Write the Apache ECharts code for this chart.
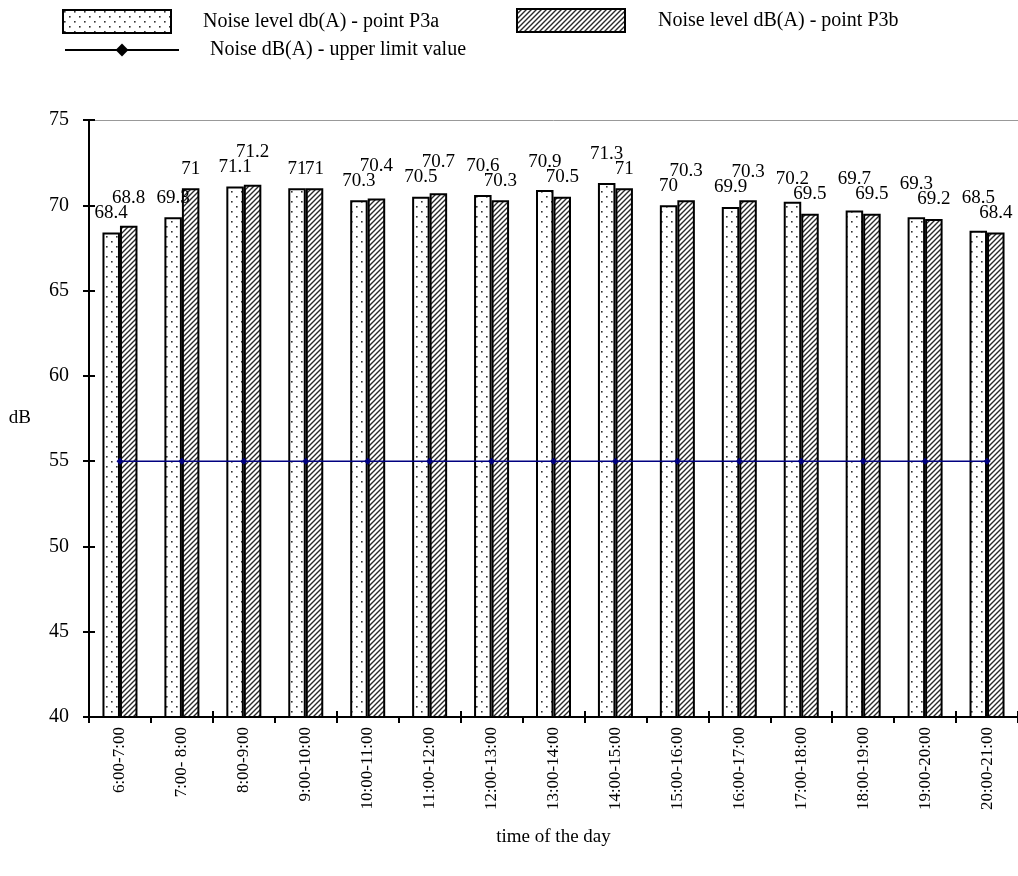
<!DOCTYPE html>
<html>
<head>
<meta charset="utf-8">
<script src="https://cdn.jsdelivr.net/npm/echarts@6/dist/echarts.min.js"></script>
<style>
  html, body { margin: 0; padding: 0; background: #fff; }
  #chart { width: 1018px; height: 876px; }
</style>
</head>
<body>
<div id="chart"></div>
<script>
// Hourly time slots
const categories = ['6:00-7:00', '7:00- 8:00', '8:00-9:00', '9:00-10:00', '10:00-11:00',
  '11:00-12:00', '12:00-13:00', '13:00-14:00', '14:00-15:00', '15:00-16:00',
  '16:00-17:00', '17:00-18:00', '18:00-19:00', '19:00-20:00', '20:00-21:00'];

// Measured noise levels, dB(A)
const pointP3a = [68.4, 69.3, 71.1, 71, 70.3, 70.5, 70.6, 70.9, 71.3, 70, 69.9, 70.2, 69.7, 69.3, 68.5];
const pointP3b = [68.8, 71, 71.2, 71, 70.4, 70.7, 70.3, 70.5, 71, 70.3, 70.3, 69.5, 69.5, 69.2, 68.4];

// Permitted upper limit, dB(A)
const upperLimit = [55, 55, 55, 55, 55, 55, 55, 55, 55, 55, 55, 55, 55, 55, 55];

const yTicks = { min: 40, max: 75, interval: 5 };

const FONT = '"Liberation Serif", "Times New Roman", serif';

// Dotted fill
function dotTile() {
  const c = document.createElement('canvas');
  c.width = 10; c.height = 10;
  const g = c.getContext('2d');
  g.fillStyle = '#fff'; g.fillRect(0, 0, 10, 10);
  g.fillStyle = '#333';
  g.fillRect(1, 1, 1.6, 1.6);
  g.fillRect(6, 6, 1.6, 1.6);
  return c;
}
// Diagonal hatch fill
function hatchTile() {
  const s = 5;
  const c = document.createElement('canvas');
  c.width = s; c.height = s;
  const g = c.getContext('2d');
  g.fillStyle = '#fff'; g.fillRect(0, 0, s, s);
  g.strokeStyle = '#2a2a2a'; g.lineWidth = 1.4;
  g.beginPath();
  g.moveTo(-1, s + 1); g.lineTo(s + 1, -1);
  g.moveTo(-1, 1); g.lineTo(1, -1);
  g.moveTo(s - 1, s + 1); g.lineTo(s + 1, s - 1);
  g.stroke();
  return c;
}

const dotFill = { image: dotTile(), repeat: 'repeat' };
const hatchFill = { image: hatchTile(), repeat: 'repeat' };

const chart = echarts.init(document.getElementById('chart'), null, { renderer: 'canvas' });

const labelStyle = {
  show: true, position: 'top', distance: 10,
  fontFamily: FONT, fontSize: 19, color: '#000'
};

// Lift the label of the taller bar in a pair when the two labels would collide
function pairLayout(own, other) {
  return function (params) {
    const i = params.dataIndex;
    if (own[i] <= other[i]) return {};
    const yOwn = chart.convertToPixel({ yAxisIndex: 0 }, own[i]);
    const yOther = chart.convertToPixel({ yAxisIndex: 0 }, other[i]);
    const gap = yOther - yOwn;
    const need = 15;
    return gap < need ? { dy: -(need - gap) } : {};
  };
}

const legendText = { fontFamily: FONT, fontSize: 20, color: '#000' };

chart.setOption({
  backgroundColor: '#fff',
  animation: false,
  textStyle: { fontFamily: FONT },
  legend: [
    {
      data: [{ name: 'Noise level db(A) - point P3a', icon: 'rect' }],
      left: 62, top: 9, padding: 0,
      itemWidth: 108, itemHeight: 23,
      textStyle: Object.assign({ padding: [0, 0, 6, 27] }, legendText),
      selectedMode: false
    },
    {
      data: [{ name: 'Noise level dB(A) - point P3b', icon: 'rect' }],
      left: 516, top: 8, padding: 0,
      itemWidth: 108, itemHeight: 23,
      textStyle: Object.assign({ padding: [0, 0, 6, 28] }, legendText),
      selectedMode: false
    },
    {
      data: ['Noise dB(A) - upper limit value'],
      left: 64, top: 40, padding: 0,
      itemWidth: 114, itemHeight: 16,
      itemStyle: { color: '#000' },
      lineStyle: { color: '#000', width: 2 },
      textStyle: Object.assign({ padding: [0, 0, 0, 26] }, legendText),
      selectedMode: false
    }
  ],
  grid: { left: 89, top: 120, width: 934, height: 597, containLabel: false },
  xAxis: [
    {
      type: 'category', data: categories, position: 'bottom',
      axisLine: { lineStyle: { color: '#000', width: 2 } },
      axisTick: { show: true, length: 6, lineStyle: { color: '#000', width: 2 } },
      axisLabel: { rotate: 90, margin: 10, fontFamily: FONT, fontSize: 17, color: '#000' },
      name: 'time of the day', nameLocation: 'middle', nameGap: 111,
      nameMoveOverlap: false,
      nameTextStyle: { fontFamily: FONT, fontSize: 19, color: '#000' },
      splitLine: { show: false }
    },
    {
      // inner half of the category ticks
      type: 'category', data: categories, position: 'bottom',
      axisLine: { show: false },
      axisTick: { show: true, inside: true, length: 6, lineStyle: { color: '#000', width: 2 } },
      axisLabel: { show: false }, splitLine: { show: false }
    },
    {
      // top border of the plot
      type: 'category', data: categories, position: 'top',
      axisLine: { lineStyle: { color: '#999', width: 1 } },
      axisTick: { show: false }, axisLabel: { show: false }, splitLine: { show: false }
    }
  ],
  yAxis: [
    {
      type: 'value', min: yTicks.min, max: yTicks.max, interval: yTicks.interval,
      axisLine: { show: true, lineStyle: { color: '#000', width: 2 } },
      axisTick: { show: true, length: 6, lineStyle: { color: '#000', width: 2 } },
      axisLabel: { margin: 20, fontFamily: FONT, fontSize: 20, color: '#000' },
      splitLine: { show: false },
      name: 'dB', nameLocation: 'middle', nameRotate: 0, nameGap: 58,
      nameTextStyle: { fontFamily: FONT, fontSize: 19, color: '#000' }
    },
    {
      // inner half of the value ticks
      type: 'value', min: yTicks.min, max: yTicks.max, interval: yTicks.interval,
      position: 'left',
      axisLine: { show: false },
      axisTick: { show: true, inside: true, length: 6, lineStyle: { color: '#000', width: 2 } },
      axisLabel: { show: false }, splitLine: { show: false }
    }
  ],
  series: [
    {
      name: 'Noise level db(A) - point P3a', type: 'bar', data: pointP3a,
      barWidth: 17.5, barGap: '0%',
      itemStyle: { color: dotFill, borderColor: '#000', borderWidth: 2 },
      label: labelStyle,
      labelLayout: pairLayout(pointP3a, pointP3b)
    },
    {
      name: 'Noise level dB(A) - point P3b', type: 'bar', data: pointP3b,
      barWidth: 17.5, barGap: '0%',
      itemStyle: { color: hatchFill, borderColor: '#000', borderWidth: 2 },
      label: labelStyle,
      labelLayout: pairLayout(pointP3b, pointP3a)
    },
    {
      name: 'Noise dB(A) - upper limit value', type: 'line', data: upperLimit,
      symbol: 'diamond', symbolSize: 7,
      lineStyle: { color: '#000080', width: 1.5 },
      itemStyle: { color: '#000080' },
      z: 5
    }
  ]
});
</script>
</body>
</html>
